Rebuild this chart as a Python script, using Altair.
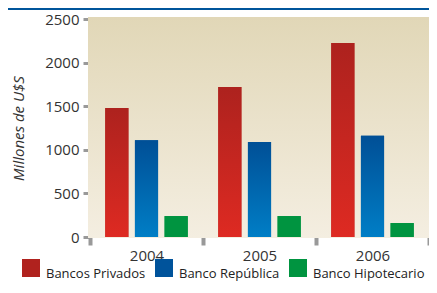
import altair as alt
import pandas as pd

years = ["2004", "2005", "2006"]
series = ["Bancos Privados", "Banco República", "Banco Hipotecario"]
privados = [1480, 1720, 2225]
republica = [1110, 1090, 1160]
hipotecario = [240, 240, 160]
y_ticks = [0, 500, 1000, 1500, 2000, 2500]

legend_colors = ["#b0221e", "#00539b", "#009440"]

rows = []
for s, vals in zip(series, [privados, republica, hipotecario]):
    for yr, v in zip(years, vals):
        rows.append({"year": yr, "serie": s, "value": v})
df = pd.DataFrame(rows)

W, H = 339, 218

def grad(top, bottom):
    return alt.LinearGradient(
        gradient="linear",
        stops=[alt.GradientStop(color=top, offset=0), alt.GradientStop(color=bottom, offset=1)],
        x1=0, x2=0, y1=0, y2=1,
    )

bar_grads = {
    "Bancos Privados": grad("#ad221e", "#de2a22"),
    "Banco República": grad("#004f96", "#007ec6"),
    "Banco Hipotecario": grad("#009440", "#009440"),
}

base = alt.Chart(df)

bg = base.mark_rect(fill=grad("#e1d7b7", "#f4eee1")).encode(
    x=alt.value(-2), x2=alt.value(W + 2), y=alt.value(-2), y2=alt.value(H + 1)
)

topline = base.mark_rule(color="#00559b", strokeWidth=2).encode(
    x=alt.value(-85), x2=alt.value(W + 10), y=alt.value(-10)
)

xenc = alt.X(
    "year:N",
    sort=years,
    scale=alt.Scale(paddingInner=0, paddingOuter=0),
    axis=alt.Axis(
        title=None, labelAngle=0, domain=False, tickBand="extent", tickSize=8,
        tickWidth=4, tickColor="#999999", labelPadding=3, labelFontSize=15,
        labelColor="#333333",
    ),
)
xoff = alt.XOffset(
    "serie:N",
    scale=alt.Scale(domain=series, paddingInner=0.22, paddingOuter=0.515),
)
yenc = alt.Y(
    "value:Q",
    scale=alt.Scale(domain=[0, 2500], nice=False),
    axis=alt.Axis(
        values=y_ticks, format="d", grid=False, domain=False, tickSize=7, tickWidth=3,
        tickColor="#999999", labelPadding=4, labelFontSize=15, labelColor="#333333",
        title="Millones de U$S", titleFontStyle="italic", titleFontWeight="normal",
        titleFontSize=15, titleColor="#333333", titleX=-72, titleY=H / 2,
        titleAngle=-90, titleAlign="center", titleBaseline="middle",
    ),
)

bars = base.mark_bar().encode(
    x=xenc, xOffset=xoff, y=yenc,
    color=alt.Color(
        "serie:N",
        scale=alt.Scale(domain=series, range=legend_colors),
        legend=alt.Legend(
            title=None, orient="none", legendX=-68, legendY=240, direction="horizontal",
            symbolType="square", symbolSize=324, symbolStrokeWidth=0, symbolOpacity=1,
            labelFontSize=13, labelColor="#222222", labelOffset=6, columnPadding=9,
            labelBaseline="top", padding=0, labelLimit=300,
        ),
    ),
)

grad_layers = []
for s in series:
    grad_layers.append(
        base.transform_filter(alt.datum.serie == s)
        .mark_bar(fill=bar_grads[s])
        .encode(x=xenc, xOffset=xoff, y=yenc)
    )

chart = alt.layer(bg, topline, bars, *grad_layers).properties(
    width=W, height=H,
    autosize=alt.AutoSizeParams(type="none"),
    padding={"left": 82, "top": 11, "right": 0, "bottom": 48},
).configure(font="Open Sans").configure_view(stroke=None)

chart.save("out.html", embed_options={"renderer": "svg", "actions": False})
